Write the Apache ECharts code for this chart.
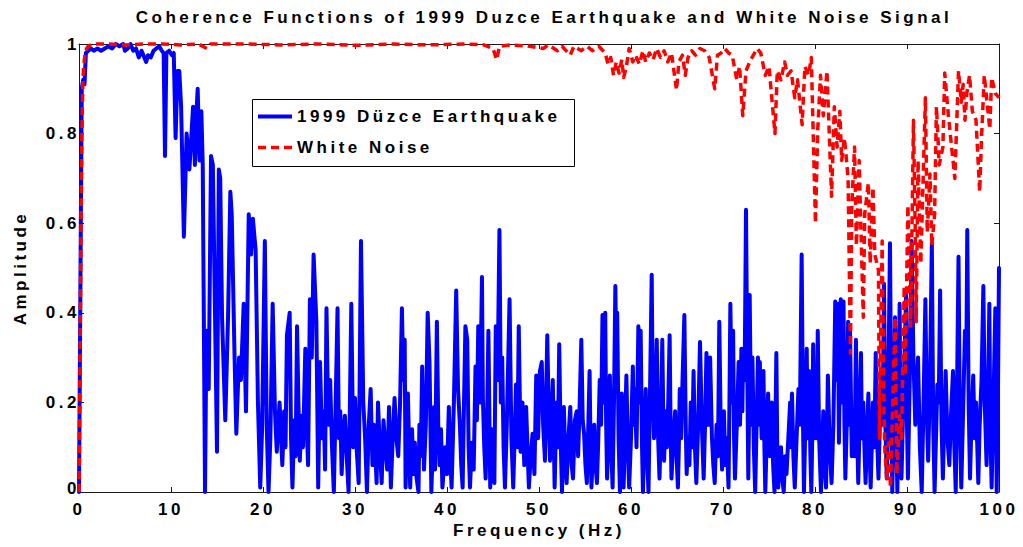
<!DOCTYPE html>
<html><head><meta charset="utf-8">
<script src="https://cdn.jsdelivr.net/npm/echarts@6.0.0/dist/echarts.min.js"></script>
<style>
html,body{margin:0;padding:0;background:#fff;}
#chart{width:1023px;height:547px;}
#chart text{letter-spacing:3.5px;}
</style></head><body><div id="chart"></div>
<script>
// ---- labels ----
const titleText = 'Coherence Functions of 1999 Duzce Earthquake and White Noise Signal';
const xName = 'Frequency (Hz)';
const yName = 'Amplitude';
const seriesNames = ['1999 Düzce Earthquake', 'White Noise'];

// ---- 1999 Düzce Earthquake coherence, [frequency Hz, amplitude] ----
const quake0to17 = [[0,0],[0.15,0.45],[0.3,0.9],[0.45,0.92],[0.6,0.91],[0.75,0.98],[1.0,0.985],[1.3,0.99],[1.6,0.985],[2.0,0.99],[2.4,0.985],[2.8,0.99],[3.2,0.995],[3.6,0.99],[4.0,1.0],[4.4,0.995],[4.8,1.0],[5.0,0.985],[5.3,0.99],[5.6,1.0],[5.9,0.985],[6.2,0.99],[6.5,0.97],[6.8,0.985],[7.0,0.975],[7.3,0.96],[7.5,0.975],[7.8,0.97],[8.1,0.985],[8.4,0.99],[8.7,0.995],[9.0,0.985],[9.2,0.98],[9.35,0.75],[9.5,0.98],[9.8,0.985],[10.1,0.975],[10.3,0.98],[10.5,0.79],[10.7,0.94],[10.9,0.94],[11.1,0.86],[11.4,0.57],[11.7,0.80],[12.0,0.72],[12.2,0.79],[12.4,0.86],[12.6,0.73],[12.8,0.86],[12.9,0.9],[13.1,0.74],[13.3,0.85],[13.45,0.73],[13.7,0.0],[13.85,0.36],[14.0,0.36],[14.1,0.23],[14.35,0.75],[14.55,0.73],[15.0,0.09],[15.2,0.72],[15.35,0.70],[15.55,0.39],[15.9,0.16],[16.2,0.39],[16.45,0.67],[16.6,0.62],[16.9,0.31]];
const quake17to34 = [[17.1,0.13],[17.25,0.22],[17.4,0.30],[17.6,0.25],[17.9,0.42],[18.15,0.18],[18.45,0.62],[18.7,0.53],[18.9,0.61],[19.2,0.54],[19.45,0.2],[19.7,0.01],[19.9,0.14],[20.2,0.56],[20.4,0.15],[20.6,0.0],[20.8,0.12],[21.05,0.42],[21.3,0.18],[21.5,0.09],[21.65,0.15],[21.8,0.2],[22.1,0.06],[22.3,0.18],[22.45,0.1],[22.6,0.35],[22.9,0.40],[23.05,0.12],[23.2,0.01],[23.4,0.16],[23.55,0.08],[23.7,0.37],[23.85,0.2],[24.0,0.07],[24.2,0.17],[24.35,0.1],[24.6,0.32],[24.75,0.15],[24.9,0.06],[25.1,0.43],[25.3,0.3],[25.5,0.53],[25.8,0.38],[26.0,0.01],[26.2,0.29],[26.4,0.12],[26.6,0.18],[26.75,0.05],[26.9,0.41],[27.1,0.15],[27.3,0.25],[27.5,0.1],[27.7,0.0],[27.9,0.2],[28.1,0.41],[28.25,0.12],[28.4,0.18],[28.55,0.04],[28.7,0.12],[28.9,0.17],[29.1,0.08],[29.3,0.0],[29.45,0.2],[29.6,0.42],[29.8,0.1],[30.0,0.21],[30.2,0.09],[30.4,0.02],[30.65,0.56],[30.9,0.2],[31.1,0.12],[31.3,0.0],[31.5,0.15],[31.7,0.23],[31.9,0.06],[32.05,0.15],[32.2,0.09],[32.35,0.02],[32.5,0.2],[32.7,0.1],[32.9,0.02],[33.1,0.16],[33.3,0.1],[33.5,0.05],[33.7,0.19],[33.9,0.01],[34.1,0.12]];
const quake34to50 = [[34.3,0.21],[34.5,0.12],[34.7,0.08],[34.9,0.2],[35.1,0.41],[35.25,0.25],[35.4,0.34],[35.5,0.01],[35.6,0.1],[35.75,0.22],[35.9,0.08],[36.0,0.01],[36.1,0.09],[36.2,0.14],[36.35,0.04],[36.5,0.11],[36.7,0.03],[36.9,0.0],[37.0,0.15],[37.15,0.08],[37.3,0.28],[37.5,0.05],[37.7,0.15],[37.9,0.40],[38.1,0.29],[38.3,0.0],[38.45,0.1],[38.6,0.19],[38.7,0.05],[38.9,0.38],[39.05,0.15],[39.2,0.06],[39.35,0.14],[39.5,0.01],[39.65,0.05],[39.8,0.1],[40.0,0.04],[40.2,0.19],[40.35,0.08],[40.5,0.01],[40.75,0.2],[41.0,0.45],[41.2,0.23],[41.4,0.15],[41.55,0.06],[41.7,0.01],[41.85,0.2],[42.0,0.37],[42.2,0.34],[42.35,0.1],[42.5,0.01],[42.7,0.11],[42.9,0.05],[43.1,0.28],[43.25,0.16],[43.4,0.37],[43.6,0.2],[43.8,0.48],[43.9,0.21],[44.05,0.1],[44.2,0.03],[44.35,0.15],[44.5,0.36],[44.7,0.01],[44.85,0.14],[45.0,0.1],[45.15,0.02],[45.3,0.37],[45.5,0.25],[45.7,0.585],[45.85,0.2],[46.0,0.3],[46.15,0.1],[46.3,0.01],[46.5,0.15],[46.8,0.43],[47.0,0.12],[47.2,0.01],[47.35,0.12],[47.5,0.24],[47.65,0.1],[47.8,0.37],[48.0,0.09],[48.2,0.2],[48.4,0.06],[48.6,0.19],[48.75,0.1],[48.9,0.01],[49.1,0.08],[49.3,0.13],[49.5,0.04],[49.7,0.26],[49.9,0.12]];
const quake50to67 = [[50.1,0.27],[50.3,0.29],[50.45,0.15],[50.65,0.07],[50.9,0.35],[51.05,0.18],[51.2,0.07],[51.35,0.16],[51.5,0.25],[51.7,0.01],[51.9,0.2],[52.05,0.1],[52.2,0.33],[52.35,0.12],[52.5,0.0],[52.6,0.1],[52.7,0.19],[52.85,0.08],[53.0,0.02],[53.2,0.12],[53.4,0.19],[53.55,0.06],[53.7,0.03],[53.9,0.16],[54.1,0.18],[54.25,0.08],[54.4,0.18],[54.6,0.34],[54.75,0.16],[54.9,0.13],[55.05,0.06],[55.2,0.02],[55.35,0.14],[55.5,0.27],[55.6,0.1],[55.7,0.01],[55.85,0.08],[56.0,0.15],[56.15,0.06],[56.3,0.02],[56.45,0.12],[56.6,0.25],[56.75,0.15],[56.9,0.395],[57.05,0.2],[57.2,0.40],[57.3,0.15],[57.4,0.03],[57.55,0.12],[57.7,0.26],[57.85,0.1],[58.0,0.01],[58.15,0.2],[58.3,0.46],[58.4,0.3],[58.5,0.40],[58.65,0.12],[58.8,0.0],[58.9,0.1],[59.0,0.22],[59.1,0.08],[59.2,0.01],[59.35,0.14],[59.5,0.26],[59.65,0.1],[59.8,0.01],[60.0,0.12],[60.2,0.28],[60.3,0.15],[60.4,0.23],[60.6,0.1],[60.8,0.37],[60.9,0.2],[61.05,0.36],[61.2,0.1],[61.3,0.0],[61.45,0.12],[61.6,0.23],[61.75,0.08],[61.9,0.0],[62.05,0.2],[62.25,0.485],[62.35,0.25],[62.5,0.12],[62.65,0.2],[62.8,0.34],[62.95,0.12],[63.1,0.03],[63.25,0.15],[63.4,0.34],[63.5,0.18],[63.6,0.07],[63.75,0.18],[63.9,0.1],[64.05,0.2],[64.2,0.35],[64.3,0.15],[64.4,0.03],[64.6,0.12],[64.8,0.18],[64.95,0.08],[65.1,0.01],[65.2,0.1],[65.3,0.23],[65.45,0.12],[65.6,0.25],[65.8,0.395],[65.95,0.15],[66.05,0.04],[66.2,0.12],[66.35,0.06],[66.5,0.2],[66.65,0.1],[66.8,0.27],[66.95,0.1],[67.1,0.02],[67.3,0.15]];
const quake67to84 = [[67.5,0.335],[67.7,0.15],[67.9,0.03],[68.05,0.15],[68.2,0.31],[68.4,0.15],[68.6,0.30],[68.8,0.12],[68.95,0.06],[69.1,0.02],[69.3,0.15],[69.45,0.08],[69.6,0.38],[69.75,0.15],[69.9,0.05],[70.0,0.12],[70.1,0.18],[70.25,0.06],[70.4,0.12],[70.6,0.01],[70.7,0.2],[70.8,0.42],[70.95,0.2],[71.1,0.36],[71.2,0.12],[71.3,0.03],[71.5,0.15],[71.7,0.29],[71.85,0.15],[72.0,0.32],[72.1,0.18],[72.2,0.32],[72.35,0.25],[72.5,0.63],[72.65,0.25],[72.75,0.03],[72.85,0.2],[72.9,0.44],[73.05,0.15],[73.2,0.3],[73.35,0.1],[73.5,0.0],[73.65,0.15],[73.8,0.3],[73.9,0.15],[74.0,0.29],[74.2,0.12],[74.4,0.27],[74.5,0.1],[74.6,0.0],[74.75,0.12],[74.9,0.22],[75.1,0.08],[75.3,0.2],[75.45,0.06],[75.6,0.0],[75.7,0.15],[75.8,0.31],[75.9,0.1],[76.0,0.01],[76.15,0.06],[76.3,0.1],[76.45,0.03],[76.6,0.0],[76.75,0.08],[76.9,0.04],[77.1,0.12],[77.3,0.2],[77.4,0.1],[77.5,0.22],[77.65,0.08],[77.8,0.01],[78.0,0.12],[78.2,0.23],[78.35,0.15],[78.55,0.53],[78.7,0.15],[78.8,0.0],[78.95,0.15],[79.1,0.32],[79.2,0.12],[79.35,0.27],[79.5,0.08],[79.6,0.0],[79.7,0.12],[79.8,0.33],[79.95,0.12],[80.1,0.25],[80.2,0.12],[80.3,0.36],[80.45,0.12],[80.65,0.0],[80.8,0.1],[80.9,0.18],[81.05,0.06],[81.2,0.01],[81.3,0.12],[81.4,0.26],[81.6,0.1],[81.8,0.02],[82.0,0.15],[82.2,0.425],[82.35,0.25],[82.5,0.42],[82.6,0.11],[82.7,0.25],[82.8,0.43],[82.95,0.2],[83.1,0.425],[83.2,0.15],[83.3,0.03],[83.45,0.15],[83.6,0.38],[83.7,0.15],[83.8,0.37],[84.0,0.08]];
const quake84to100 = [[84.2,0.16],[84.3,0.08],[84.45,0.34],[84.6,0.12],[84.7,0.02],[84.85,0.15],[85.0,0.31],[85.1,0.12],[85.25,0.2],[85.4,0.08],[85.5,0.02],[85.65,0.12],[85.8,0.22],[85.95,0.08],[86.05,0.01],[86.2,0.12],[86.3,0.2],[86.45,0.1],[86.6,0.31],[86.75,0.12],[86.9,0.03],[87.05,0.15],[87.25,0.27],[87.35,0.15],[87.5,0.465],[87.65,0.15],[87.8,0.03],[87.95,0.2],[88.15,0.555],[88.3,0.15],[88.4,0.0],[88.55,0.15],[88.7,0.39],[88.85,0.12],[88.95,0.0],[89.05,0.15],[89.2,0.42],[89.3,0.12],[89.4,0.03],[89.6,0.2],[89.9,0.44],[90.0,0.15],[90.1,0.03],[90.3,0.25],[90.5,0.56],[90.7,0.3],[90.9,0.15],[91.05,0.22],[91.2,0.3],[91.4,0.1],[91.6,0.0],[91.8,0.2],[92.0,0.43],[92.15,0.18],[92.3,0.07],[92.5,0.25],[92.7,0.555],[92.85,0.15],[93.0,0.0],[93.15,0.12],[93.3,0.24],[93.45,0.2],[93.6,0.45],[93.75,0.15],[93.9,0.03],[94.05,0.15],[94.2,0.27],[94.4,0.12],[94.6,0.06],[94.8,0.18],[95.0,0.27],[95.15,0.1],[95.3,0.0],[95.45,0.25],[95.6,0.525],[95.75,0.15],[95.9,0.01],[96.1,0.18],[96.3,0.36],[96.45,0.3],[96.55,0.585],[96.7,0.2],[96.85,0.03],[97.0,0.15],[97.2,0.26],[97.35,0.12],[97.5,0.2],[97.75,0.02],[97.9,0.15],[98.1,0.25],[98.3,0.46],[98.45,0.2],[98.65,0.06],[98.8,0.2],[98.95,0.42],[99.05,0.15],[99.2,0.01],[99.4,0.2],[99.6,0.41],[99.7,0.15],[99.75,0.0],[99.9,0.25],[100,0.5]];

// ---- White Noise coherence, [frequency Hz, amplitude] ----
const noise0to50 = [[0,0],[0.1,0.25],[0.2,0.55],[0.3,0.78],[0.4,0.9],[0.5,0.95],[0.7,0.985],[1.0,0.995],[1.5,1],[3,1],[5,0.998],[7,1],[9,1],[11,0.998],[13,1],[13.9,0.99],[14.3,1],[18,1],[22,0.998],[26,1],[30,0.997],[34,1],[38,0.998],[42,1],[44,0.998],[45.0,0.99],[45.4,0.965],[45.7,0.995],[47,0.998],[49,0.995]];
const noise50to80 = [[50.5,0.99],[51,0.998],[52,0.985],[52.5,0.995],[53.4,0.975],[53.8,0.995],[54.6,0.985],[55.2,0.995],[55.8,0.985],[56.5,0.995],[57.2,0.98],[57.5,0.955],[57.8,0.97],[58.1,0.93],[58.4,0.96],[58.7,0.935],[59.0,0.965],[59.2,0.925],[59.5,0.95],[59.8,0.99],[60.2,0.96],[60.5,0.975],[60.9,0.955],[61.3,0.985],[61.6,0.96],[62.0,0.98],[62.4,0.965],[62.8,0.99],[63.2,0.97],[63.6,0.985],[64.0,0.96],[64.4,0.98],[64.95,0.897],[65.2,0.96],[65.6,0.975],[65.9,0.93],[66.2,0.97],[66.6,0.985],[67.0,0.975],[67.5,0.99],[68.0,0.985],[68.5,0.97],[69.1,0.90],[69.4,0.975],[69.8,0.98],[70.2,0.99],[70.6,0.98],[71.0,0.975],[71.5,0.92],[71.8,0.95],[72.15,0.84],[72.5,0.94],[72.9,0.96],[73.3,0.975],[73.7,0.99],[74.1,0.98],[74.6,0.93],[75.0,0.95],[75.65,0.80],[75.9,0.94],[76.3,0.92],[76.7,0.96],[77.0,0.93],[77.4,0.94],[77.8,0.88],[78.1,0.92],[78.6,0.82],[78.9,0.95],[79.3,0.93],[79.6,0.97]];
const noise80to100 = [[80.05,0.60],[80.3,0.81],[80.6,0.93],[80.9,0.84],[81.3,0.94],[81.8,0.66],[82.1,0.86],[82.4,0.77],[82.7,0.85],[82.9,0.74],[83.2,0.79],[83.6,0.70],[83.85,0.31],[84.0,0.64],[84.3,0.77],[84.5,0.55],[84.8,0.74],[85.0,0.58],[85.25,0.39],[85.4,0.62],[85.8,0.69],[86.0,0.51],[86.3,0.68],[86.5,0.53],[86.9,0.495],[87.0,0.12],[87.1,0.29],[87.3,0.56],[87.4,0.37],[87.5,0.18],[87.6,0.09],[87.8,0.03],[88.0,0.11],[88.2,0.01],[88.7,0.39],[88.9,0.04],[89.2,0.17],[89.4,0.12],[89.7,0.46],[89.8,0.26],[90.1,0.64],[90.4,0.37],[90.7,0.83],[90.9,0.58],[91.0,0.38],[91.2,0.74],[91.5,0.51],[92.0,0.88],[92.2,0.58],[92.5,0.71],[92.7,0.55],[93.0,0.62],[93.2,0.86],[93.5,0.73],[93.9,0.77],[94.1,0.935],[94.5,0.84],[94.8,0.78],[95.2,0.70],[95.6,0.94],[95.9,0.87],[96.1,0.91],[96.3,0.83],[96.5,0.89],[96.8,0.93],[97.1,0.85],[97.5,0.83],[97.9,0.67],[98.1,0.79],[98.4,0.93],[98.8,0.85],[99.0,0.81],[99.2,0.925],[99.6,0.89],[100,0.88]];

// ---- axis ticks ----
const xTicks = {min: 0, max: 100, interval: 10};
const yTicks = {min: 0, max: 1, interval: 0.2};

const quakeData = [].concat(quake0to17, quake17to34, quake34to50, quake50to67, quake67to84, quake84to100);
const noiseData = [].concat(noise0to50, noise50to80, noise80to100);

const FONT = '"Liberation Sans", Arial, Helvetica, sans-serif';
const AX = '#1a1a1a';
const txt = {fontFamily: FONT, fontWeight: 'bold', fontSize: 17, color: '#000'};

const chart = echarts.init(document.getElementById('chart'), null, {renderer: 'svg', width: 1023, height: 547});

function xAxisDef(pos, main) {
  return {
    type: 'value', position: pos, min: xTicks.min, max: xTicks.max, interval: xTicks.interval,
    name: main ? xName : '', nameLocation: 'middle', nameGap: 25, nameTextStyle: txt,
    axisLine: {show: true, onZero: false, lineStyle: {color: AX, width: 1}},
    axisTick: {show: true, inside: true, length: 5, lineStyle: {color: AX, width: 1}},
    axisLabel: {show: main, margin: 9, lineHeight: 16, ...txt},
    splitLine: {show: false}
  };
}
function yAxisDef(pos, main) {
  return {
    type: 'value', position: pos, min: yTicks.min, max: yTicks.max, interval: yTicks.interval,
    name: main ? yName : '', nameLocation: 'middle', nameGap: 50, nameRotate: 90, nameTextStyle: txt,
    axisLine: {show: true, onZero: false, lineStyle: {color: AX, width: 1}},
    axisTick: {show: true, inside: true, length: 5, lineStyle: {color: AX, width: 1}},
    axisLabel: {
      show: main, margin: -1, lineHeight: 14, ...txt,
      formatter: (v) => (v === 0 ? '{z|0}' : String(v)),
      rich: {z: {...txt, lineHeight: 14, padding: [0, 0, 7, 0]}}
    },
    splitLine: {show: false}
  };
}

chart.setOption({
  animation: false,
  backgroundColor: '#fff',
  title: {
    text: titleText, left: 539, top: 4, textAlign: 'center',
    textStyle: {fontFamily: FONT, fontWeight: 'bold', fontSize: 17, color: '#000'}
  },
  grid: {left: 79, right: 24, top: 44, bottom: 55, outerBoundsMode: 'none'},
  xAxis: [xAxisDef('bottom', true), xAxisDef('top', false)],
  yAxis: [yAxisDef('left', true), yAxisDef('right', false)],
  legend: {
    orient: 'vertical', left: 258, top: 108, padding: 0, itemWidth: 34, itemHeight: 14, itemGap: 14,
    symbolKeepAspect: true,
    textStyle: txt, selectedMode: false,
    data: [
      {name: seriesNames[0], icon: 'path://M0,0H34V4H0Z'},
      {name: seriesNames[1], icon: 'path://M0,0H8V3.5H0Z M13,0H21V3.5H13Z M26,0H34V3.5H26Z'}
    ]
  },
  graphic: [{
    type: 'rect', z: 0, silent: true,
    shape: {x: 252.5, y: 99.5, width: 322, height: 67},
    style: {fill: '#fff', stroke: '#000', lineWidth: 1}
  }],
  series: [
    {
      name: seriesNames[0], type: 'line', data: quakeData, symbol: 'none', showSymbol: false,
      clip: false, z: 3,
      lineStyle: {color: '#0000ff', width: 4, join: 'round', cap: 'round'},
      itemStyle: {color: '#0000ff'}
    },
    {
      name: seriesNames[1], type: 'line', data: noiseData, symbol: 'none', showSymbol: false,
      clip: false, z: 4,
      lineStyle: {color: '#ff0000', width: 3.5, type: [8, 5], join: 'round'},
      itemStyle: {color: '#ff0000'}
    }
  ]
});
</script></body></html>
